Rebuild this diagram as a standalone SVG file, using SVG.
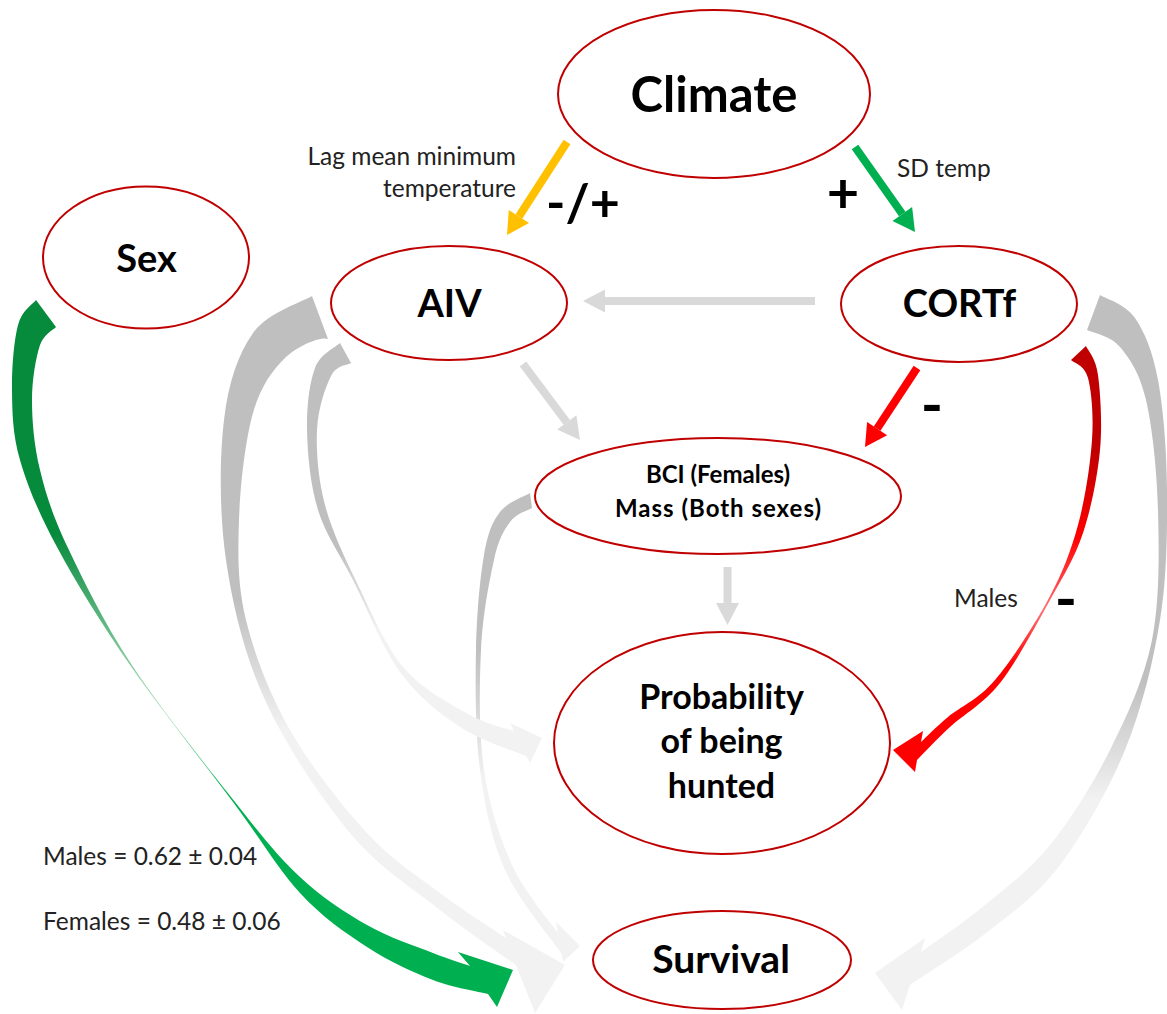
<svg xmlns="http://www.w3.org/2000/svg" width="1167" height="1014" viewBox="0 0 1167 1014">
<style>
.node ellipse{fill:#fff;stroke:#C00000;stroke-width:2}
.t{font-family:Lato,"Open Sans",sans-serif;font-weight:bold;fill:#000;text-anchor:middle}
.lbl{font-family:Lato,"Open Sans",sans-serif;fill:#222;font-size:24.5px}
.sign{font-family:Lato,"Open Sans",sans-serif;font-weight:bold;fill:#000}
</style>
<defs>
<linearGradient id="gB1" gradientUnits="userSpaceOnUse" x1="0" y1="296" x2="0" y2="1013">
<stop offset="0" stop-color="#BFBFBF"/><stop offset="0.425" stop-color="#BFBFBF"/><stop offset="0.606" stop-color="#F2F2F2"/><stop offset="1" stop-color="#F2F2F2"/></linearGradient>
<linearGradient id="gB2" gradientUnits="userSpaceOnUse" x1="0" y1="343" x2="0" y2="763">
<stop offset="0" stop-color="#BFBFBF"/><stop offset="0.49" stop-color="#BFBFBF"/><stop offset="0.68" stop-color="#F2F2F2"/><stop offset="1" stop-color="#F2F2F2"/></linearGradient>
<linearGradient id="gB3" gradientUnits="userSpaceOnUse" x1="0" y1="493" x2="0" y2="962">
<stop offset="0" stop-color="#BFBFBF"/><stop offset="0.335" stop-color="#BFBFBF"/><stop offset="0.61" stop-color="#F2F2F2"/><stop offset="1" stop-color="#F2F2F2"/></linearGradient>
<linearGradient id="gB4" gradientUnits="userSpaceOnUse" x1="0" y1="295" x2="0" y2="1010">
<stop offset="0" stop-color="#BFBFBF"/><stop offset="0.54" stop-color="#BFBFBF"/><stop offset="0.706" stop-color="#F2F2F2"/><stop offset="1" stop-color="#F2F2F2"/></linearGradient>
<linearGradient id="gG" gradientUnits="userSpaceOnUse" x1="0" y1="300" x2="0" y2="1007">
<stop offset="0" stop-color="#068A3C"/><stop offset="0.33" stop-color="#068A3C"/><stop offset="0.58" stop-color="#B5E3C4"/><stop offset="0.7" stop-color="#00B050"/><stop offset="1" stop-color="#00B050"/></linearGradient>
<linearGradient id="gR" gradientUnits="userSpaceOnUse" x1="0" y1="346" x2="0" y2="772">
<stop offset="0" stop-color="#C00000"/><stop offset="0.25" stop-color="#C00000"/><stop offset="0.45" stop-color="#FF0000"/><stop offset="0.62" stop-color="#FF7070"/><stop offset="0.75" stop-color="#FF0000"/><stop offset="1" stop-color="#FF0000"/></linearGradient>
</defs>

<g id="connectors">
<!-- AIV -> Survival (outer gray) -->
<path fill="url(#gB1)" d="M312,296 C302.2,302.2 267.7,312.3 253,333 C238.3,353.7 228.5,382.2 224,420 C219.5,457.8 219.2,513.3 226,560 C232.8,606.7 244.3,654.5 265,700 C285.7,745.5 320.8,798 350,833 C379.2,868 412.3,888 440,910 C467.7,932 503.3,955.8 516,965 L535,1013 L565,965 L503,930 L506,938 C495,930.5 463.2,910.5 440,893 C416.8,875.5 392,860.2 367,833 C342,805.8 310.2,765.5 290,730 C269.8,694.5 254.5,655 246,620 C237.5,585 237.8,554.5 239,520 C240.2,485.5 245.3,440 253,413 C260.7,386 272.5,370.3 285,358 C297.5,345.7 320.8,335.8 328,339 Z"/>
<!-- BCI -> Survival (gray) -->
<path fill="url(#gB3)" d="M530,493 C525,496.2 507.7,501.7 500,512 C492.3,522.3 488,532 484,555 C480,578 476.7,614.2 476,650 C475.3,685.8 475.2,733.3 480,770 C484.8,806.7 491.5,839.5 505,870 C518.5,900.5 551.7,939.2 561,953 L563,962 L580,946 L556,922 L558,933 C550.3,921.7 524.3,892.2 512,865 C499.7,837.8 489.2,805.8 484,770 C478.8,734.2 479.3,685 481,650 C482.7,615 489.2,581.3 494,560 C498.8,538.7 503.7,530.7 510,522 C516.3,513.3 528.3,510.3 532,508 Z"/>
<!-- AIV -> Probability (gray) -->
<path fill="url(#gB2)" d="M340,343 C335.8,347.2 320.5,353.5 315,368 C309.5,382.5 306.5,406.3 307,430 C307.5,453.7 310.3,485 318,510 C325.7,535 339.3,553 353,580 C366.7,607 382.2,647.5 400,672 C417.8,696.5 439,713 460,727 C481,741 515,751.2 526,756 L530,763 L542,738 L510,723 L514,731 C506.3,728.2 486.3,724.5 468,714 C449.7,703.5 422.5,689.8 404,668 C385.5,646.2 370.2,610.2 357,583 C343.8,555.8 331.7,530.5 325,505 C318.3,479.5 316,451.5 317,430 C318,408.5 325.3,387.2 331,376 C336.7,364.8 347.7,365.2 351,363 Z"/>
<!-- CORTf -> Survival (gray) -->
<path fill="url(#gB4)" d="M1100,295 C1105.8,298.8 1125.3,303.8 1135,318 C1144.7,332.2 1152.7,351.3 1158,380 C1163.3,408.7 1166.7,450 1167,490 C1167.3,530 1167,576.7 1160,620 C1153,663.3 1141.7,709.2 1125,750 C1108.3,790.8 1082.5,835 1060,865 C1037.5,895 1015,910 990,930 C965,950 923.3,975.8 910,985 L902,1010 L875,973 L925,938 L921,952 C931.7,944.2 963.5,922.8 985,905 C1006.5,887.2 1029.2,870.8 1050,845 C1070.8,819.2 1093,784.2 1110,750 C1127,715.8 1144,680 1152,640 C1160,600 1159,550 1158,510 C1157,470 1152.3,427.2 1146,400 C1139.7,372.8 1129.8,358.7 1120,347 C1110.2,335.3 1092.5,332.8 1087,330 Z"/>
<!-- Sex -> Survival (green) -->
<path fill="url(#gG)" d="M36,300 C33,304.2 22,310 18,325 C14,340 11.7,367.5 12,390 C12.3,412.5 12.5,433.8 20,460 C27.5,486.2 38.7,512.8 57,547 C75.3,581.2 100.7,622.5 130,665 C159.3,707.5 204.7,764 233,802 C261.3,840 277.7,868.8 300,893 C322.3,917.2 344.8,932.5 367,947 C389.2,961.5 412.8,972.2 433,980 C453.2,987.8 478.8,991.7 488,994 L497,1007 L513,970 L458,952 L470,966 C463.8,963.8 450.2,959.8 433,953 C415.8,946.2 389.2,937.7 367,925 C344.8,912.3 322.1,897.7 300,877 C277.9,856.3 262.3,836.6 234.2,801.1 C206.1,765.6 158.9,706.3 131.2,664.1 C103.5,621.9 83.2,580.4 68,548 C52.7,516 46,494.7 40,470 C34,445.3 32,420.8 32,400 C32,379.2 36,357.2 40,345 C44,333.8 53.3,330 56,327 Z"/>
<!-- CORTf -> Probability (red, Males) -->
<path fill="url(#gR)" d="M1086,346 C1088,350.8 1095.7,357.7 1098,375 C1100.3,392.3 1102.5,423.7 1100,450 C1097.5,476.3 1091.3,508 1083,533 C1074.7,558 1063.8,575 1050,600 C1036.2,625 1016.7,661.8 1000,683 C983.3,704.2 963.8,714.2 950,727 C936.2,739.8 922.5,754.5 917,760 L915,772 L893,750 L923,731 L921,742 C925.5,737.8 935.7,727.3 948,717 C960.3,706.7 978.2,699.8 995,680 C1011.8,660.2 1035.2,623.8 1049,598 C1062.8,572.2 1070.8,551.3 1078,525 C1085.2,498.7 1090.3,464.5 1092,440 C1093.7,415.5 1091.5,391.3 1088,378 C1084.5,364.7 1073.8,363 1071,360 Z"/>
<!-- straight arrows -->
<g id="climate-aiv" fill="#FFC000"><line x1="567" y1="142" x2="518.9" y2="216.5" stroke="#FFC000" stroke-width="8"/><polygon points="507,235 529,223 508.8,210"/></g>
<g id="climate-cortf" fill="#00B050"><line x1="855" y1="147" x2="902.3" y2="214" stroke="#00B050" stroke-width="8"/><polygon points="915,232 912.1,207.1 892.5,220.9"/></g>
<g id="cortf-aiv" fill="#D9D9D9"><line x1="815" y1="301" x2="604" y2="301" stroke="#D9D9D9" stroke-width="8"/><polygon points="583,301 605,289.5 605,312.5"/></g>
<g id="aiv-bci" fill="#D9D9D9"><line x1="523" y1="364" x2="566.8" y2="422.4" stroke="#D9D9D9" stroke-width="8"/><polygon points="580,440 576.4,415.2 557.2,429.6"/></g>
<g id="cortf-bci" fill="#FF0000"><line x1="917" y1="368" x2="877.1" y2="428.6" stroke="#FF0000" stroke-width="8"/><polygon points="865,447 887.1,435.2 867.1,422"/></g>
<g id="bci-prob" fill="#D9D9D9"><line x1="727.5" y1="567" x2="727.5" y2="604" stroke="#D9D9D9" stroke-width="8"/><polygon points="727.5,625 716,603 739,603"/></g>
</g>

<g id="labels">
<text class="lbl" x="516" y="165" text-anchor="end">Lag mean minimum</text>
<text class="lbl" x="516" y="197" text-anchor="end">temperature</text>
<text class="sign" x="546" y="221" font-size="52">-/+</text>
<text class="sign" x="843" y="213" font-size="56" text-anchor="middle">+</text>
<text class="lbl" x="897" y="177">SD temp</text>
<text class="sign" x="932" y="426" font-size="60" text-anchor="middle">-</text>
<text class="lbl" x="954" y="607">Males</text>
<text class="sign" x="1066" y="620" font-size="60" text-anchor="middle">-</text>
<text class="lbl" x="43" y="865">Males = 0.62 ± 0.04</text>
<text class="lbl" x="43" y="930">Females = 0.48 ± 0.06</text>
</g>

<g id="climate" class="node"><ellipse cx="714" cy="94" rx="156" ry="84"/><text class="t" x="714" y="112" font-size="49">Climate</text></g>
<g id="sex" class="node"><ellipse cx="146" cy="257.5" rx="103" ry="71"/><text class="t" x="146.5" y="272" font-size="38">Sex</text></g>
<g id="aiv" class="node"><ellipse cx="449" cy="303" rx="118" ry="57"/><text class="t" x="449.5" y="317" font-size="38">AIV</text></g>
<g id="cortf" class="node"><ellipse cx="959" cy="304" rx="118" ry="58"/><text class="t" x="959.5" y="317" font-size="38">CORTf</text></g>
<g id="bci" class="node"><ellipse cx="718" cy="496" rx="183" ry="58"/><text class="t" x="718" y="483" font-size="24">BCI (Females)</text><text class="t" x="718" y="517" font-size="24" textLength="206" lengthAdjust="spacing">Mass (Both sexes)</text></g>
<g id="probability" class="node"><ellipse cx="722" cy="743" rx="168" ry="111"/><text class="t" x="721.5" y="709" font-size="34">Probability</text><text class="t" x="721.5" y="753" font-size="34">of being</text><text class="t" x="721.5" y="798" font-size="34">hunted</text></g>
<g id="survival" class="node"><ellipse cx="722" cy="960" rx="129" ry="49"/><text class="t" x="721" y="973" font-size="39">Survival</text></g>
</svg>
